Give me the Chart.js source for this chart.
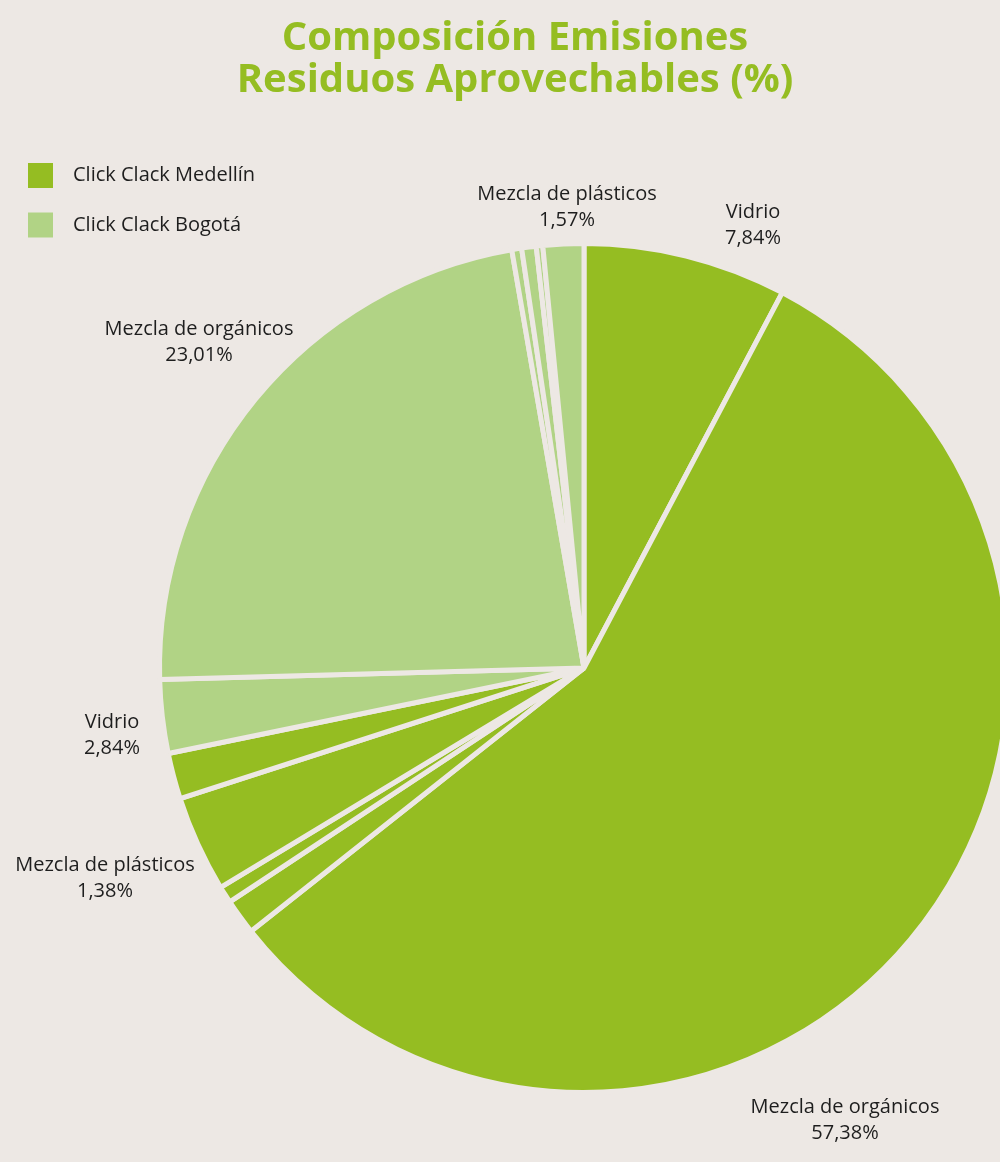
<!DOCTYPE html>
<html lang="es">
<head>
<meta charset="utf-8">
<title>Composición Emisiones Residuos Aprovechables (%)</title>
<script src="https://cdn.jsdelivr.net/npm/chart.js@4.4.1/dist/chart.umd.min.js"></script>
<style>
   html, body { margin: 0; padding: 0; background: #ede8e4; overflow: hidden; }
   #wrap { position: relative; width: 1000px; height: 1162px; overflow: hidden; }
   #box { position: absolute; left: 0; top: 0; width: 1170px; height: 1162px; }
   h1 {
      position: absolute; left: 0; top: 14px; width: 1030px; margin: 0;
      text-align: center; color: #95bd22;
      font: bold 40px/42px "Open Sans", sans-serif;
   }
</style>
</head>
<body>
<div id="wrap">
   <div id="box"><canvas id="pie"></canvas></div>
   <h1>Composición Emisiones<br>Residuos Aprovechables (%)</h1>
</div>
<script>
document.addEventListener( "DOMContentLoaded", () => {

   // Data, clockwise from 12 o'clock
   // ----------------------------------------------
   const categories = [ 'Vidrio', 'Mezcla de orgánicos', 'Mezcla de plásticos', 'Otros', 'Otros', 'Otros',
                        'Vidrio', 'Mezcla de orgánicos', 'Otros', 'Otros', 'Otros', 'Mezcla de plásticos' ];
   const cities     = [ 'Click Clack Medellín', 'Click Clack Medellín', 'Click Clack Medellín', 'Click Clack Medellín', 'Click Clack Medellín', 'Click Clack Medellín',
                        'Click Clack Bogotá', 'Click Clack Bogotá', 'Click Clack Bogotá', 'Click Clack Bogotá', 'Click Clack Bogotá', 'Click Clack Bogotá' ];
   const values     = [ 7.84, 57.38, 1.38, 0.65, 3.72, 1.77,
                        2.84, 23.01, 0.38, 0.56, 0.25, 1.57 ];
   const shownLabels = [ '7,84%', '57,38%', '1,38%', null, null, null,
                         '2,84%', '23,01%', null, null, null, '1,57%' ];
   const legendNames = [ 'Click Clack Medellín', 'Click Clack Bogotá' ];


   // Colors
   // ----------------------------------------------
   const bgColor    = '#ede8e4';
   const darkGreen  = '#95bd22';
   const lightGreen = '#b1d385';
   const textColor  = '#1e1e1e';
   const cityColor  = { 'Click Clack Medellín': darkGreen, 'Click Clack Bogotá': lightGreen };


   // Where the slice texts sit (centre of the text block)
   const labelPos = { 0: [753, 225], 1: [845, 1120], 2: [105, 878], 6: [112, 735], 7: [199, 342], 11: [567, 207] };


   // Legend + slice texts
   // ----------------------------------------------
   const decorations = {
      id: 'decorations',
      afterDraw( chart ) {
         const ctx = chart.ctx;
         ctx.save();
         ctx.font = '20px "Open Sans", sans-serif';
         ctx.fillStyle = textColor;

         // legend
         legendNames.forEach( ( name, i ) => {
            const y = 163 + i * 49.5;
            ctx.fillStyle = cityColor[name];
            ctx.fillRect( 28, y, 25, 25 );
            ctx.fillStyle = textColor;
            ctx.textAlign = 'left';
            ctx.textBaseline = 'middle';
            ctx.fillText( name, 73, y + 12.5 );
         });

         // slice texts
         ctx.textAlign = 'center';
         ctx.textBaseline = 'middle';
         shownLabels.forEach( ( pct, i ) => {
            if ( !pct ) return;
            const [x, y] = labelPos[i];
            ctx.fillText( categories[i], x, y - 13 );
            ctx.fillText( pct, x, y + 13 );
         });
         ctx.restore();
      }
   };


   // Pie
   // ----------------------------------------------
   new Chart( document.getElementById('pie'), {
      type: 'pie',
      data: {
         labels: categories,
         datasets: [
            {
               data: values,
               backgroundColor: cities.map( c => cityColor[c] ),
               borderColor: bgColor,
               borderWidth: 5,
               hoverOffset: 0
            }
         ]
      },
      options: {
         responsive: true,
         maintainAspectRatio: false,
         animation: false,
         layout: {
            padding: { left: 157, top: 241, right: 159, bottom: 67 }
         },
         plugins: {
            legend: { display: false },
            title: { display: false },
            tooltip: { enabled: false }
         }
      },
      plugins: [ decorations ]
   });
});
</script>
</body>
</html>
